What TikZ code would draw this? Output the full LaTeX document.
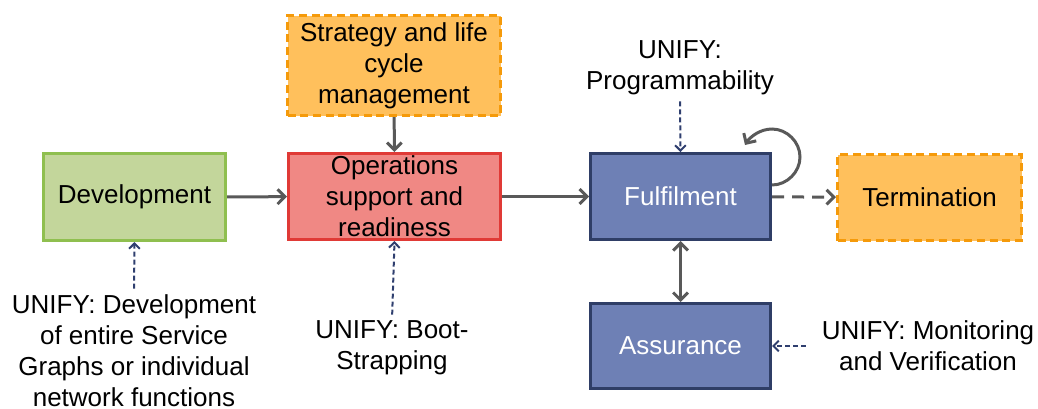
\documentclass[tikz,border=0pt]{standalone}
\usepackage{fontspec}
\setmainfont{Liberation Sans}
\usetikzlibrary{arrows.meta,calc}
\definecolor{devfill}{HTML}{C3D69B}
\definecolor{devline}{HTML}{8FBF4F}
\definecolor{opsfill}{HTML}{F08884}
\definecolor{opsline}{HTML}{E03A36}
\definecolor{orfill}{HTML}{FFC05C}
\definecolor{orline}{HTML}{F59A0A}
\definecolor{blfill}{HTML}{6E80B5}
\definecolor{blline}{HTML}{2F3E66}
\definecolor{arrgray}{HTML}{595959}
\definecolor{navy}{HTML}{2F3F6F}
\begin{document}
\begin{tikzpicture}[x=0.75pt,y=-0.75pt,
  every node/.style={font=\fontsize{19.5}{23.25}\selectfont, align=center, inner sep=0pt},
  box/.style={draw, line width=2.25pt},
  dashbox/.style={box, draw=orline, fill=orfill, dash pattern=on 6pt off 3.5pt},
  bluebox/.style={box, draw=blline, fill=blfill, text=white, minimum width=135pt, minimum height=64.5pt},
  flow/.style={draw=arrgray, line width=2.25pt, -{Straight Barb[length=5.5pt,width=11pt]}},
  flowboth/.style={flow, {Straight Barb[length=5.5pt,width=11pt]}-{Straight Barb[length=5.5pt,width=11pt]}},
  hint/.style={draw=navy, line width=1.5pt, dash pattern=on 3.75pt off 2.25pt, -{Straight Barb[length=4pt,width=8pt]}},
  lbl/.style={anchor=north}
]
\useasboundingbox (0,0) rectangle (1038,408);

\node[box, draw=devline, fill=devfill, minimum width=136.5pt, minimum height=65.25pt] (dev) at (134.5,197) {Development};
\node[box, draw=opsline, fill=opsfill, minimum width=159pt, minimum height=64.5pt] (ops) at (394.5,196.5) {Operations\\support and\\readiness};
\node[dashbox, minimum width=159.75pt, minimum height=75pt] (strat) at (394,65.5) {Strategy and life\\cycle\\management};
\node[bluebox] (ful) at (680.5,196.5) {Fulfilment};
\node[dashbox, minimum width=138pt, minimum height=64.5pt] (term) at (929.5,197.5) {Termination};
\node[bluebox, minimum height=63.75pt] (ass) at (680.5,346) {Assurance};

\node[lbl] (prog) at (680,40) {UNIFY:\\Programmability};
\node[lbl] (devl) at (134,294) {UNIFY: Development\\of entire Service\\Graphs or individual\\network functions};
\node[lbl] (boot) at (392,320) {UNIFY: Boot-\\Strapping};
\node[lbl] (mon) at (928,320) {UNIFY: Monitoring\\and Verification};

\draw[flow] (dev) -- (ops);
\draw[flow] (strat) -- (ops);
\draw[flow] (ops) -- (ful);
\draw[flowboth] (ful) -- (ass);
\draw[flow, dash pattern=on 9pt off 6pt] (ful) -- (term);
\draw[flow] ($(ful.east)+(0,-11.5)$) .. controls +(15,0) and +(0,15) .. ++(28,-28)
  .. controls +(0,-15) and +(15,0) .. ++(-28,-28)
  .. controls +(-12,0) and +(5,-8) .. ++(-27,16);

\draw[hint, shorten <=5pt] (prog.south) -- (ful.north);
\draw[hint, shorten <=4pt] (devl.north) -- (dev.south);
\draw[hint, shorten <=4pt] (boot.north) -- (ops.south);
\draw[hint, shorten <=12pt] (mon.west |- ass.east) -- (ass.east);
\end{tikzpicture}
\end{document}
